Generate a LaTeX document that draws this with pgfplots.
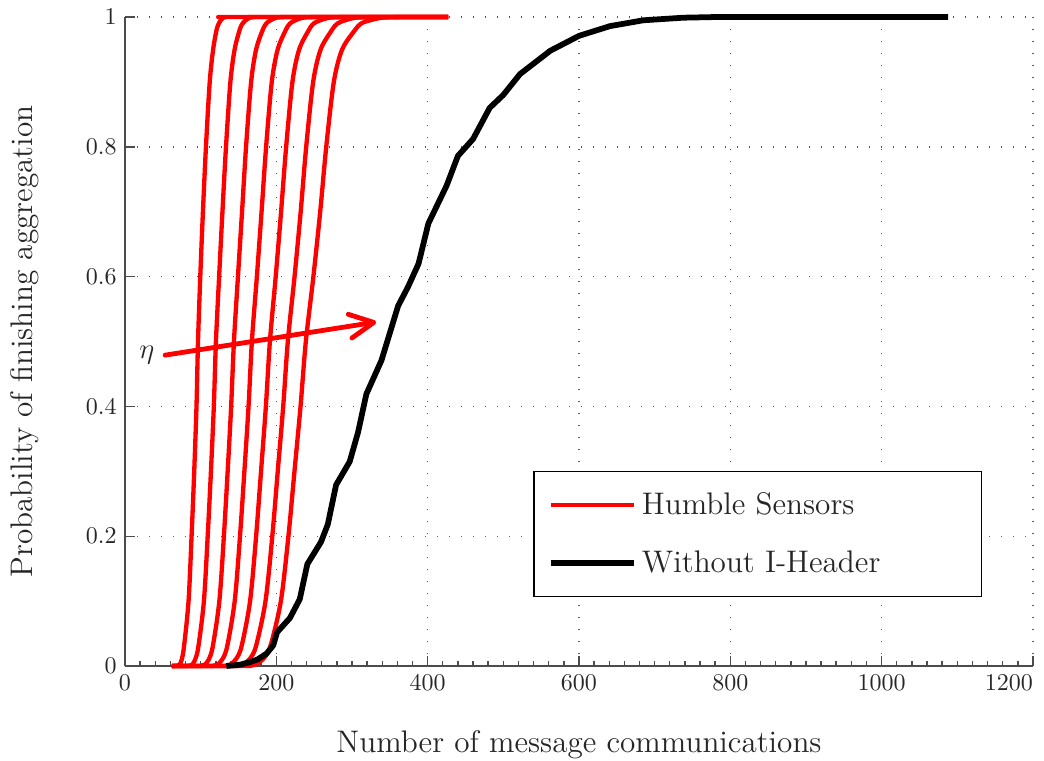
\documentclass[border=0pt]{standalone}
\usepackage{pgfplots}
\pgfplotsset{compat=1.18}
\usepackage{pgfplotstable}
\usetikzlibrary{arrows.meta}

\pgfplotstableread{
y c1 c2 c3 c4 c5 c6 c7
0 62 62 62 62 62 62 62
0 63 79 95 111 127 143 159
0.0005 69 85 101 117 133 149 165
0.002 72 88.7 105.3 122 138.7 155.3 172
0.01 75 92.8 110.7 128.5 146.3 164.2 182
0.03 78 97 116 135 154 173 192
0.1 84 104.3 124.7 145 165.3 185.7 206
0.2 88 109.3 130.7 152 173.3 194.7 216
0.3 91.5 113.6 135.7 157.8 179.8 201.9 224
0.4 94.5 117.4 140.3 163.3 186.2 209.1 232
0.5 96.5 120.2 144 167.7 191.5 215.2 239
0.6 99.5 124.4 149.3 174.3 199.2 224.1 249
0.7 103 128.8 154.7 180.5 206.3 232.2 258
0.8 107 133.5 160 186.5 213 239.5 266
0.9 112 139.3 166.7 194 221.3 248.7 276
0.95 116.5 144.9 173.3 201.8 230.2 258.6 287
0.98 121 151.5 182 212.5 243 273.5 304
0.99 124 155.3 186.7 218 249.3 280.7 312
0.995 126.5 159.4 192.3 225.3 258.2 291.1 324
0.999 130 165 200 235 270 305 340
1 135 173.3 211.7 250 288.3 326.7 365
1 143 181.3 219.7 258 296.3 334.7 373
1 427 427 427 427 427 427 427
}\redtable

\pgfplotstableread{
x y
134 0
152 0.002
165 0.006
175 0.01
187 0.019
196 0.032
201 0.052
218 0.074
231 0.103
241 0.157
259 0.191
268 0.218
279 0.279
297 0.315
308 0.36
319 0.419
339 0.471
361 0.555
374 0.584
388 0.62
401 0.682
425 0.74
440 0.786
460 0.812
482 0.86
500 0.88
522 0.912
562 0.948
600 0.971
641 0.986
685 0.995
738 0.999
780 1
1088 1
}\blacktable

\definecolor{txt}{RGB}{38,38,38}

\begin{document}
\begin{tikzpicture}
\begin{axis}[
  at={(0,0)}, anchor=south west,
  scale only axis, width=378.3pt, height=270.4pt,
  xmin=0, xmax=1200, ymin=0, ymax=1,
  xtick={0,200,...,1200}, ytick={0,0.2,0.4,0.6,0.8,1},
  xticklabels={0,200,400,600,800,1000,\llap{1200}},
  minor x tick num=9,
  axis x line*=bottom, axis y line*=left,
  axis line style={-, black!70, line width=0.6pt},
  tick style={black!70, line width=0.6pt},
  tick align=inside,
  major tick length=4pt, minor tick length=2pt,
  grid=major,
  major grid style={black!65, line width=0.6pt, dash pattern=on 0.6pt off 4.4pt},
  clip=false,
  scaled ticks=false,
  /pgf/number format/1000 sep={},
  ticklabel style={font=\fontsize{10}{12}\selectfont, text=txt},
  label style={font=\fontsize{13}{15}\selectfont, text=txt},
  xlabel={Number of message communications},
  ylabel={Probability of finishing aggregation},
  x label style={at={(axis description cs:0.5,-0.121)}, anchor=center},
  y label style={at={(axis description cs:-0.111,0.5)}, anchor=center},
  legend style={at={(0.944,0.106)}, anchor=south east,
    font=\fontsize{13}{15}\selectfont, text=txt,
    draw=black, line width=0.6pt,
    inner xsep=6pt, inner ysep=6.6pt, row sep=9.7pt},
  legend cell align=left,
  legend image code/.code={\draw[#1] (0pt,0pt) -- (34.6pt,0pt);},
]
\addplot[red, line width=1.8pt, line join=round, smooth] table[x=c1, y=y] {\redtable};
\addlegendentry{\makebox[133.4pt][l]{Humble Sensors}}
\addplot[red, line width=1.8pt, line join=round, smooth, forget plot] table[x=c2, y=y] {\redtable};
\addplot[red, line width=1.8pt, line join=round, smooth, forget plot] table[x=c3, y=y] {\redtable};
\addplot[red, line width=1.8pt, line join=round, smooth, forget plot] table[x=c4, y=y] {\redtable};
\addplot[red, line width=1.8pt, line join=round, smooth, forget plot] table[x=c5, y=y] {\redtable};
\addplot[red, line width=1.8pt, line join=round, smooth, forget plot] table[x=c6, y=y] {\redtable};
\addplot[red, line width=1.8pt, line join=round, smooth, forget plot] table[x=c7, y=y] {\redtable};
\addplot[black, line width=2.4pt, line join=round] table[x=x, y=y] {\blacktable};
\addlegendentry{\makebox[133.4pt][l]{Without I-Header}}
\draw[red, line width=2pt, line cap=round, -{Straight Barb[length=10pt, width=10pt, round]}]
  (axis cs:53,0.479) -- (axis cs:332,0.530);
\node[text=txt, font=\fontsize{13}{15}\selectfont] at (axis cs:29,0.479) {$\eta$};
\end{axis}
\pgfresetboundingbox
\useasboundingbox (-52.08pt,-39.17pt) rectangle (382.92pt,277.5pt);
\end{tikzpicture}
\end{document}
